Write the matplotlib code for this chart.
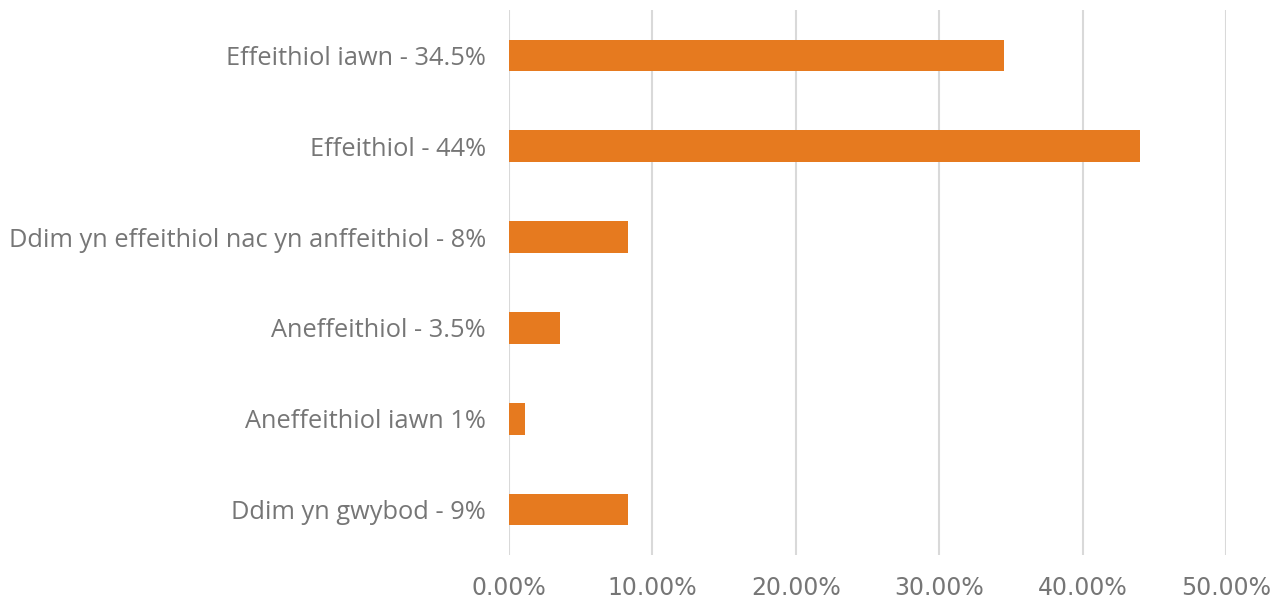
import matplotlib
matplotlib.use("Agg")
import matplotlib.pyplot as plt
from matplotlib.ticker import FuncFormatter, MultipleLocator

categories = [
    "Effeithiol iawn - 34.5%",
    "Effeithiol - 44%",
    "Ddim yn effeithiol nac yn anffeithiol - 8%",
    "Aneffeithiol - 3.5%",
    "Aneffeithiol iawn 1%",
    "Ddim yn gwybod - 9%",
]
values = [34.5, 44.0, 8.3, 3.55, 1.1, 8.3]

bar_color = "#E67A1F"
text_color = "#767676"
grid_color = "#D9D9D9"

fig = plt.figure(figsize=(12.87, 5.99), dpi=100)
ax = fig.add_axes([509 / 1287, 1 - 555 / 599, (1226 - 509) / 1287, (555 - 10) / 599])

ypos = list(range(len(categories)))[::-1]
ax.barh(ypos, values, height=0.35, color=bar_color, zorder=3)

ax.set_xlim(0, 50)
ax.set_ylim(-0.5, 5.5)
ax.xaxis.set_major_locator(MultipleLocator(10))
ax.xaxis.set_major_formatter(FuncFormatter(lambda v, p: f"{v:.2f}%"))
ax.grid(axis="x", color=grid_color, linewidth=1.5, zorder=0)
ax.set_yticks(ypos)
ax.set_yticklabels(categories, fontsize=18.3, color=text_color, family=["Open Sans", "DejaVu Sans"])
for lab in ax.get_xticklabels():
    lab.set_fontsize(17)
    lab.set_color(text_color)
    lab.set_family(["DejaVu Sans"])
ax.tick_params(axis="both", length=0)
ax.tick_params(axis="y", pad=16.5)
ax.tick_params(axis="x", pad=15)
for s in ax.spines.values():
    s.set_visible(False)

fig.savefig("out.png", dpi=100)
